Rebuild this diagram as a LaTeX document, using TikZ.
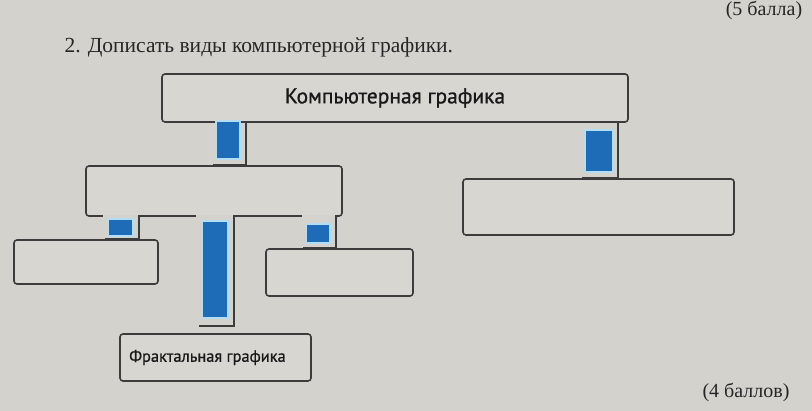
\documentclass[tikz,border=0pt]{standalone}
\usepackage{fontspec}
\setmainfont{Liberation Serif}
\newfontfamily\labelfont[FakeBold=0.9]{PT Sans}
\usetikzlibrary{calc}
\definecolor{bg}{HTML}{D4D2CC}
\definecolor{boxfill}{HTML}{D8D6D0}
\definecolor{edge}{HTML}{3C3C3C}
\definecolor{barblue}{HTML}{1E6BB8}
\definecolor{barrim}{HTML}{B2DDF4}
\begin{document}
\begin{tikzpicture}[x=1pt,y=-1pt,
  box/.style={draw=edge, fill=boxfill, line width=1.6pt, rounded corners=3pt, inner sep=0pt},
  bar/.style={draw=barrim, fill=barblue, line width=2.4pt, inner sep=0pt},
  shadowline/.style={draw=edge, line width=2pt},
  gapfill/.style={fill=bg}]
\fill[bg] (0,0) rectangle (812,411);
\useasboundingbox (0,0) rectangle (812,411);

% texts
\node[anchor=west, font=\fontsize{21.5}{26}\selectfont, text=black!85] (title) at (61,47) {2. Дописать виды компьютерной графики.};
\node[font=\fontsize{20}{24}\selectfont, text=black!85] (pts5) at (764,10) {(5 балла)};
\node[font=\fontsize{20}{24}\selectfont, text=black!85] (pts4) at (746,392) {(4 баллов)};

% boxes
\node[box, minimum width=466pt, minimum height=48pt, font=\labelfont\fontsize{21.5}{25}\selectfont, text=black!90] (top) at (395,98) {Компьютерная графика};
\node[box, minimum width=256pt, minimum height=50pt] (mid) at (214,191) {};
\node[box, minimum width=271pt, minimum height=56pt] (right) at (598.5,207) {};
\node[box, minimum width=144pt, minimum height=44pt] (left) at (86,262) {};
\node[box, minimum width=147pt, minimum height=47pt] (rlow) at (339.5,272.5) {};
\node[box, minimum width=191pt, minimum height=47pt, font=\labelfont\fontsize{16.4}{19}\selectfont, text=black!90] (fract) at (215.5,357.5) {\hspace*{-16pt}Фрактальная графика};

% gaps in the bottom edge of the middle box
\fill[gapfill] ($(mid.south)+(-111,-2)$) rectangle ($(mid.south)+(-76,2)$);
\fill[gapfill] ($(mid.south)+(-18,-2)$) rectangle ($(mid.south)+(19,2)$);
\fill[gapfill] ($(mid.south)+(88,-2)$) rectangle ($(mid.south)+(121,2)$);

% connectors (bars)
\node[bar, minimum width=24pt, minimum height=38pt] (c1) at (228,140) {};
\node[bar, minimum width=28pt, minimum height=42pt] (c2) at (599,151) {};
\node[bar, minimum width=25pt, minimum height=17pt] (c3) at (120.5,227.5) {};
\node[bar, minimum width=26pt, minimum height=97pt] (c4) at (215,269.5) {};
\node[bar, minimum width=24pt, minimum height=19pt] (c5) at (318,233.5) {};

% connector shadows
\draw[shadowline] ($(c1.east |- top.south)+(5,0)$) -- ($(c1.east |- mid.north)+(5,0)$) -- ($(c1.west |- mid.north)+(-2,0)$);
\draw[shadowline] ($(c2.east |- top.south)+(4,0)$) -- ($(c2.east |- right.north)+(4,0)$) -- ($(c2.west |- right.north)+(-2,0)$);
\draw[shadowline] ($(c3.east |- mid.south)+(5,0)$) -- ($(c3.east |- left.north)+(5,0)$) -- ($(c3.west |- left.north)+(-2,0)$);
\draw[shadowline] ($(c4.east |- mid.south)+(5,0)$) -- ($(c4.south east)+(5,7)$) -- ($(c4.south west)+(-2,7)$);
\draw[shadowline] ($(c5.east |- mid.south)+(5,0)$) -- ($(c5.east |- rlow.north)+(5,0)$) -- ($(c5.west |- rlow.north)+(-2,0)$);
\end{tikzpicture}
\end{document}
